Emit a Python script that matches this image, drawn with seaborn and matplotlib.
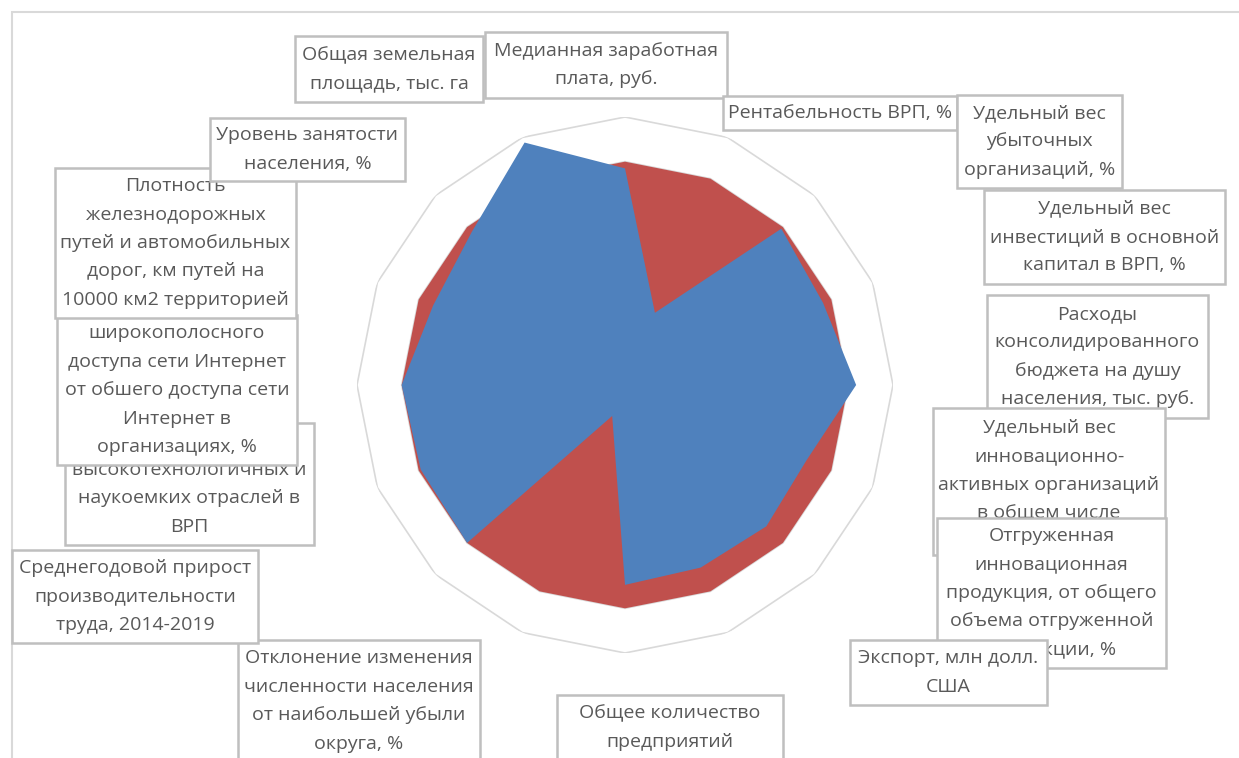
"""Radar chart: regional indicators vs. district baseline."""

import matplotlib.pyplot as plt
import numpy as np
import pandas as pd
import seaborn as sns
from matplotlib.patches import Rectangle

CATEGORIES = [
    "Медианная заработная\nплата, руб.",
    "Рентабельность ВРП, %",
    "Удельный вес\nубыточных\nорганизаций, %",
    "Удельный вес\nинвестиций в основной\nкапитал в ВРП, %",
    "Расходы\nконсолидированного\nбюджета на душу\nнаселения, тыс. руб.",
    "Удельный вес\nинновационно-\nактивных организаций\nв общем числе",
    "Отгруженная\nинновационная\nпродукция, от общего\nобъема отгруженной\nпродукции, %",
    "Экспорт, млн долл.\nСША",
    "Общее количество\nпредприятий",
    "Отклонение изменения\nчисленности населения\nот наибольшей убыли\nокруга, %",
    "Среднегодовой прирост\nпроизводительности\nтруда, 2014-2019",
    "высокотехнологичных и\nнаукоемких отраслей в\nВРП",
    "широкополосного\nдоступа сети Интернет\nот обшего доступа сети\nИнтернет в\nорганизациях, %",
    "Плотность\nжелезнодорожных\nпутей и автомобильных\nдорог, км путей на\n10000 км2 территорией",
    "Уровень занятости\nнаселения, %",
    "Общая земельная\nплощадь, тыс. га",
]
BASELINE = [1.0] * 16
REGION = [0.97, 0.35, 0.99, 0.96, 1.035, 0.88, 0.895, 0.885,
          0.895, 0.15, 1.0, 0.99, 1.0, 0.93, 0.97, 1.175]
GRID_LEVELS = [0.2, 0.4, 0.6, 0.8, 1.0, 1.2]

# label boxes in pixels: left, top, width, height, text offset (down)
LABEL_BOXES = [
    (485, 32, 242, 66, 0), (723, 96, 234, 34, 0), (957, 95, 165, 93, 0),
    (984, 190, 241, 94, 0), (987, 295, 221, 123, 0), (933, 408, 232, 147, -11),
    (937, 518, 229, 150, 0), (850, 640, 197, 65, 0), (557, 695, 226, 66, 0),
    (238, 640, 242, 122, 0), (12, 550, 246, 93, 0), (65, 423, 249, 122, 14),
    (57, 315, 240, 150, 0), (55, 168, 241, 150, 0), (210, 118, 195, 63, 0),
    (295, 36, 188, 66, 0),
]

W, H = 1239, 758
RED = "#C0504D"
BLUE = "#4F81BD"
TEXT = "#595959"
EDGE = "#BFBFBF"

sns.set_theme(style="white")
plt.rcParams["font.family"] = ["Open Sans", "DejaVu Sans"]

fig = plt.figure(figsize=(W / 100, H / 100), dpi=100)
cx, cy, rad = 625, 385, 268
ax = fig.add_axes([(cx - rad) / W, (H - cy - rad) / H, 2 * rad / W, 2 * rad / H],
                  projection="polar")
ax.set_theta_zero_location("N")
ax.set_theta_direction(-1)

n = len(CATEGORIES)
theta = np.linspace(0, 2 * np.pi, n, endpoint=False)
theta_c = np.append(theta, theta[0])

rings = pd.DataFrame(
    [(lvl, t, lvl) for lvl in GRID_LEVELS for t in theta_c],
    columns=["level", "theta", "r"],
)
sns.lineplot(data=rings, x="theta", y="r", units="level", estimator=None,
             sort=False, color="#D9D9D9", linewidth=1.2, legend=False, ax=ax, zorder=1)

ax.fill(theta_c, BASELINE + BASELINE[:1], color=RED, zorder=2, linewidth=0)
ax.fill(theta_c, REGION + REGION[:1], color=BLUE, zorder=3, linewidth=0)

ax.set_ylim(0, 1.2)
ax.set_xticks([])
ax.set_yticks([])
ax.set_xlabel("")
ax.set_ylabel("")
ax.grid(False)
ax.spines["polar"].set_visible(False)
ax.patch.set_alpha(0)

# outer chart border
fig.add_artist(Rectangle((12 / W, -0.1), 1.2, 1.1 - 12 / H, transform=fig.transFigure,
                         fill=False, edgecolor="#D9D9D9", linewidth=1.5, zorder=5))

for i, (label, (left, top, bw, bh, dy)) in enumerate(zip(CATEGORIES, LABEL_BOXES)):
    fig.add_artist(Rectangle((left / W, 1 - (top + bh) / H), bw / W, bh / H,
                             transform=fig.transFigure, facecolor="white",
                             edgecolor=EDGE, linewidth=1.8, zorder=10 + 2 * i))
    fig.text((left + bw / 2) / W, 1 - (top + bh / 2 + dy) / H, label, ha="center",
             va="center", fontsize=14, color=TEXT, linespacing=1.75, zorder=11 + 2 * i)

fig.savefig("out.png", dpi=100, facecolor="white")
